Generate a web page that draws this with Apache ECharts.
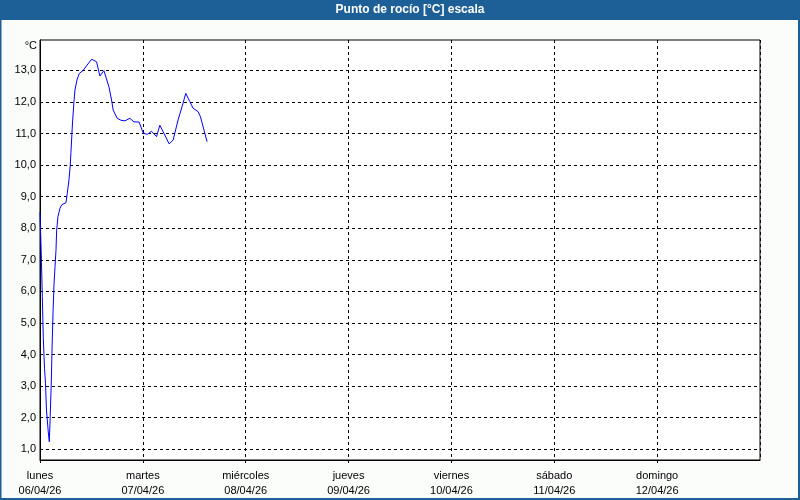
<!DOCTYPE html>
<html>
<head>
<meta charset="utf-8">
<script src="https://cdn.jsdelivr.net/npm/echarts@6/dist/echarts.min.js"></script>
<style>
  html, body { margin: 0; padding: 0; background: #fbfdfb; }
  #chart { width: 800px; height: 500px; }
</style>
</head>
<body>
<div id="chart"></div>
<script>
// ---- data ----
const titleText = 'Punto de rocío [°C] escala';
const unitLabel = '°C';
const dayNames = ['lunes', 'martes', 'miércoles', 'jueves', 'viernes', 'sábado', 'domingo'];
const dayDates = ['06/04/26', '07/04/26', '08/04/26', '09/04/26', '10/04/26', '11/04/26', '12/04/26'];
const yTicks = [1, 2, 3, 4, 5, 6, 7, 8, 9, 10, 11, 12, 13];
// hours since 06/04/26 00:00
const hours = [0, 0.3, 0.54, 0.77, 1.05, 1.28, 1.51, 1.93, 2.17, 2.33, 2.63, 2.8, 3.03, 3.26, 3.5, 3.73, 3.89, 4.19, 4.66, 5.06, 6.06, 6.36, 6.76, 7.06, 7.22, 7.57, 7.92, 8.16, 8.62, 9.16, 10.09, 11.18, 12.05, 13.2, 13.98, 14.91, 16.08, 16.7, 17.08, 18.01, 18.87, 19.81, 20.97, 21.9, 23.14, 24.07, 25.0, 26.03, 27.19, 27.96, 29.13, 30.13, 31.06, 32.22, 33.25, 34.02, 34.95, 35.72, 36.89, 37.44, 38.98];
const dewPoint = [8.5, 7.15, 5.83, 4.51, 3.56, 3.09, 2.24, 1.55, 1.24, 1.83, 3.1, 4.14, 5.3, 6.2, 6.78, 7.3, 7.94, 8.37, 8.63, 8.74, 8.81, 9.1, 9.53, 10.0, 10.4, 11.3, 12.0, 12.38, 12.69, 12.9, 13.0, 13.2, 13.35, 13.27, 12.82, 12.99, 12.48, 12.06, 11.74, 11.48, 11.42, 11.40, 11.48, 11.37, 11.36, 11.02, 10.97, 11.07, 10.90, 11.26, 10.95, 10.67, 10.79, 11.43, 11.90, 12.27, 12.01, 11.80, 11.69, 11.53, 10.74];

const seriesData = hours.map((h, i) => [h, dewPoint[i]]);
const FONT = 'Liberation Sans, Arial, sans-serif';

const chart = echarts.init(document.getElementById('chart'), null, { renderer: 'canvas' });
chart.setOption({
  backgroundColor: '#fbfdfb',
  animation: false,
  graphic: [
    { type: 'rect', shape: { x: 0, y: 0, width: 800, height: 20 }, style: { fill: '#1d5f97' }, z: 10 },
    { type: 'rect', shape: { x: 0.5, y: 0.5, width: 798.5, height: 498.5 }, style: { fill: 'none', stroke: '#1d5f97', lineWidth: 2 }, z: 10 },
    { type: 'text', x: 410, y: 10, style: { text: titleText, fill: '#ffffff', font: 'bold 12px ' + FONT, textAlign: 'center', textVerticalAlign: 'middle' }, z: 11 },
    { type: 'text', x: 37, y: 46, style: { text: unitLabel, fill: '#000', font: '11px ' + FONT, textAlign: 'right', textVerticalAlign: 'middle' }, z: 11 }
  ],
  grid: {
    left: 40, right: 40, top: 40, bottom: 40,
    show: true, backgroundColor: '#ffffff', borderColor: '#000', borderWidth: 1
  },
  xAxis: {
    type: 'value', min: 0, max: 168, interval: 24,
    axisLine: { show: true, onZero: false, lineStyle: { color: '#000', width: 1 } },
    axisTick: { show: true, length: 3, lineStyle: { color: '#000' } },
    splitLine: { show: true, lineStyle: { color: '#000', type: [3, 3], width: 1 } },
    axisLabel: {
      show: true, margin: 8, showMaxLabel: false, color: '#000',
      fontFamily: FONT, fontSize: 11, lineHeight: 15,
      formatter: function (v) {
        const i = Math.round(v / 24);
        if (i >= dayNames.length) return '';
        return dayNames[i] + '\n' + dayDates[i];
      }
    }
  },
  yAxis: {
    type: 'value', min: 0.66, max: 13.96,
    axisLine: { show: true, onZero: false, lineStyle: { color: '#000', width: 1 } },
    axisTick: { show: false, customValues: yTicks },
    splitLine: { show: true, lineStyle: { color: '#000', type: [3, 3], width: 1 } },
    axisLabel: {
      show: true, margin: 4, color: '#000', fontFamily: FONT, fontSize: 11,
      customValues: yTicks,
      formatter: function (v) { return v.toFixed(1).replace('.', ','); }
    }
  },
  series: [{
    type: 'line', data: seriesData, showSymbol: false, symbol: 'none',
    lineStyle: { color: '#0000ff', width: 1 }, clip: true
  }]
});
</script>
</body>
</html>
